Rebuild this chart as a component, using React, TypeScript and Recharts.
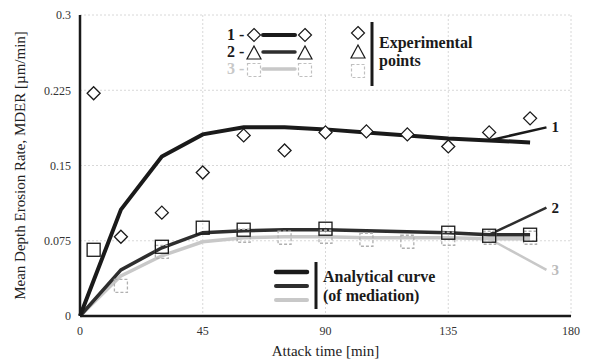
import { CartesianGrid, ComposedChart, Line, Scatter, XAxis, YAxis, LabelList } from "recharts";

const times = [0, 15, 30, 45, 60, 75, 90, 105, 120, 135, 150, 165];
const curve1 = [0, 0.106, 0.159, 0.181, 0.188, 0.188, 0.186, 0.183, 0.18, 0.177, 0.175, 0.173];
const curve2 = [0, 0.046, 0.068, 0.083, 0.085, 0.086, 0.086, 0.085, 0.084, 0.083, 0.081, 0.081];
const curve3 = [0, 0.04, 0.06, 0.074, 0.078, 0.079, 0.079, 0.078, 0.078, 0.078, 0.077, 0.077];

const pts1X = [5, 15, 30, 45, 60, 75, 90, 105, 120, 135, 150, 165];
const pts1Y = [0.222, 0.079, 0.103, 0.143, 0.18, 0.165, 0.183, 0.184, 0.181, 0.169, 0.183, 0.197];
const pts2X = [5, 30, 45, 60, 90, 135, 150, 165];
const pts2Y = [0.066, 0.069, 0.088, 0.086, 0.087, 0.083, 0.08, 0.081];
const pts3X = [15, 30, 60, 75, 90, 105, 120, 135, 150, 165];
const pts3Y = [0.03, 0.064, 0.08, 0.078, 0.079, 0.076, 0.074, 0.077, 0.078, 0.078];

// pointer lines to the curve numbers
const ptrX = [150, 171];
const ptr1 = [0.175, 0.188];
const ptr2 = [0.081, 0.108];
const ptr3 = [0.077, 0.046];
const curveNames = ["1", "2", "3"];

const xTicks = [0, 45, 90, 135, 180];
const yTicks = [0, 0.075, 0.15, 0.225, 0.3];

const DARK = "#1a1a1a";
const DARK2 = "#2e2e2e";
const LIGHT = "#c8c8c8";
const SERIF = "'Liberation Serif', 'DejaVu Serif', serif";

const rows = (xs: number[], ys: number[]) => xs.map((x, i) => ({ x, y: ys[i] }));
const ptrRows = (ys: number[], name: string) =>
  ptrX.map((x, i) => ({ x, y: ys[i], name: i === ptrX.length - 1 ? name : "" }));

const Diamond = (p: any) => {
  const { cx, cy } = p;
  const r = 6.5;
  return <polygon points={`${cx},${cy - r} ${cx + r},${cy} ${cx},${cy + r} ${cx - r},${cy}`} fill="#fff" stroke={DARK} strokeWidth={1.3} />;
};
const DarkSquare = (p: any) => (
  <rect x={p.cx - 6.5} y={p.cy - 6.5} width={13} height={13} fill="none" stroke={DARK} strokeWidth={1.3} />
);
const LightSquare = (p: any) => (
  <rect x={p.cx - 6.5} y={p.cy - 6.5} width={13} height={13} fill="none" stroke="#b0b0b0" strokeWidth={1.3} strokeDasharray="3 2" />
);

const NumLabel = (color: string) => (p: any) =>
  p.value ? (
    <text x={p.x + 5} y={p.y + 5} fill={color} fontFamily={SERIF} fontWeight="bold" fontSize={15}>
      {p.value}
    </text>
  ) : null;

function Overlay() {
  const tri = (cx: number, cy: number, c: string) => (
    <polygon points={`${cx},${cy - 7} ${cx + 7},${cy + 6} ${cx - 7},${cy + 6}`} fill="#fff" stroke={c} strokeWidth={1.2} />
  );
  const dia = (cx: number, cy: number) => (
    <polygon points={`${cx},${cy - 6.5} ${cx + 6.5},${cy} ${cx},${cy + 6.5} ${cx - 6.5},${cy}`} fill="#fff" stroke={DARK} strokeWidth={1.2} />
  );
  const sq = (cx: number, cy: number) => (
    <rect x={cx - 6.5} y={cy - 6.5} width={13} height={13} fill="none" stroke="#c0c0c0" strokeWidth={1.2} strokeDasharray="3 2" />
  );
  const t = { fontWeight: "bold" as const, fontSize: 16 };
  return (
    <svg width={592} height={363} style={{ position: "absolute", left: 0, top: 0, pointerEvents: "none", fontFamily: SERIF }}>
      <text x={227} y={40} fill={DARK} {...t}>1 -</text>
      <text x={227} y={57} fill={DARK} {...t}>2 -</text>
      <text x={227} y={74} fill={LIGHT} {...t}>3 -</text>
      {dia(254, 35)}
      <line x1={263} y1={35} x2={295} y2={35} stroke={DARK} strokeWidth={4} strokeLinecap="round" />
      {dia(305, 35)}
      {tri(254, 53, DARK)}
      <line x1={263} y1={52} x2={295} y2={52} stroke={DARK2} strokeWidth={3.5} strokeLinecap="round" />
      {tri(305, 53, DARK)}
      {sq(254, 70)}
      <line x1={263} y1={69} x2={295} y2={69} stroke={LIGHT} strokeWidth={3.5} strokeLinecap="round" />
      {sq(305, 70)}
      {dia(358, 33)}
      {tri(358, 52, DARK)}
      {sq(358, 71)}
      <line x1={372} y1={22} x2={372} y2={86} stroke={DARK} strokeWidth={3} />
      <text x={379} y={48} fill={DARK} {...t}>Experimental</text>
      <text x={379} y={66} fill={DARK} {...t}>points</text>

      <line x1={276} y1={272} x2={307} y2={272} stroke={DARK} strokeWidth={4.5} strokeLinecap="round" />
      <line x1={276} y1={286} x2={307} y2={286} stroke={DARK2} strokeWidth={4} strokeLinecap="round" />
      <line x1={276} y1={300} x2={307} y2={300} stroke={LIGHT} strokeWidth={4} strokeLinecap="round" />
      <line x1={316} y1={262} x2={316} y2={309} stroke={DARK} strokeWidth={3} />
      <text x={323} y={282} fill={DARK} {...t}>Analytical curve</text>
      <text x={323} y={301} fill={DARK} {...t}>(of mediation)</text>
    </svg>
  );
}

export default function App() {
  const c1 = rows(times, curve1);
  const c2 = rows(times, curve2);
  const c3 = rows(times, curve3);
  return (
    <div style={{ position: "absolute", left: 0, top: 0, width: 592, height: 363, background: "#fff", fontFamily: SERIF }}>
      <ComposedChart width={592} height={363} margin={{ top: 15, right: 21, bottom: 2, left: 0 }}>
        <CartesianGrid stroke="#d8d8d8" strokeDasharray="2 2" />
        <XAxis
          type="number"
          dataKey="x"
          domain={[0, 180]}
          ticks={xTicks}
          height={45}
          tick={{ fontSize: 12, fill: "#333" }}
          tickLine={false}
          axisLine={{ stroke: DARK, strokeWidth: 2.5 }}
          tickMargin={4}
          label={{ value: "Attack time [min]", position: "insideBottom", offset: 5, style: { fontSize: 15, fill: "#222" } }}
        />
        <XAxis xAxisId="top" orientation="top" type="number" domain={[0, 180]} tick={false} axisLine={{ stroke: "#444", strokeWidth: 1.5 }} tickLine={false} height={0} />
        <YAxis
          type="number"
          domain={[0, 0.3]}
          ticks={yTicks}
          width={80}
          tickFormatter={(v: number) => String(v)}
          tick={{ fontSize: 12, fill: "#333" }}
          tickLine={false}
          axisLine={{ stroke: DARK, strokeWidth: 2.5 }}
          tickMargin={3}
          label={{ value: "Mean Depth Erosion Rate, MDER [µm/min]", angle: -90, position: "insideLeft", offset: 20, style: { fontSize: 15, fill: "#222", textAnchor: "middle" } }}
        />
        <YAxis yAxisId="right" orientation="right" domain={[0, 0.3]} tick={false} axisLine={{ stroke: "#444", strokeWidth: 1.5 }} tickLine={false} width={0} />

        <Line data={c3} dataKey="y" type="linear" stroke={LIGHT} strokeWidth={3.5} dot={false} isAnimationActive={false} />
        <Line data={ptrRows(ptr3, curveNames[2])} dataKey="y" type="linear" stroke={LIGHT} strokeWidth={2.5} dot={false} isAnimationActive={false}>
          <LabelList dataKey="name" content={NumLabel("#bbb")} />
        </Line>
        <Line data={c2} dataKey="y" type="linear" stroke={DARK2} strokeWidth={3.5} dot={false} isAnimationActive={false} />
        <Line data={ptrRows(ptr2, curveNames[1])} dataKey="y" type="linear" stroke={DARK2} strokeWidth={2.5} dot={false} isAnimationActive={false}>
          <LabelList dataKey="name" content={NumLabel(DARK)} />
        </Line>
        <Line data={c1} dataKey="y" type="linear" stroke={DARK} strokeWidth={4} dot={false} isAnimationActive={false} />
        <Line data={ptrRows(ptr1, curveNames[0])} dataKey="y" type="linear" stroke={DARK} strokeWidth={2.5} dot={false} isAnimationActive={false}>
          <LabelList dataKey="name" content={NumLabel(DARK)} />
        </Line>

        <Scatter data={rows(pts3X, pts3Y)} dataKey="y" shape={LightSquare} isAnimationActive={false} />
        <Scatter data={rows(pts2X, pts2Y)} dataKey="y" shape={DarkSquare} isAnimationActive={false} />
        <Scatter data={rows(pts1X, pts1Y)} dataKey="y" shape={Diamond} isAnimationActive={false} />
      </ComposedChart>
      <Overlay />
    </div>
  );
}
